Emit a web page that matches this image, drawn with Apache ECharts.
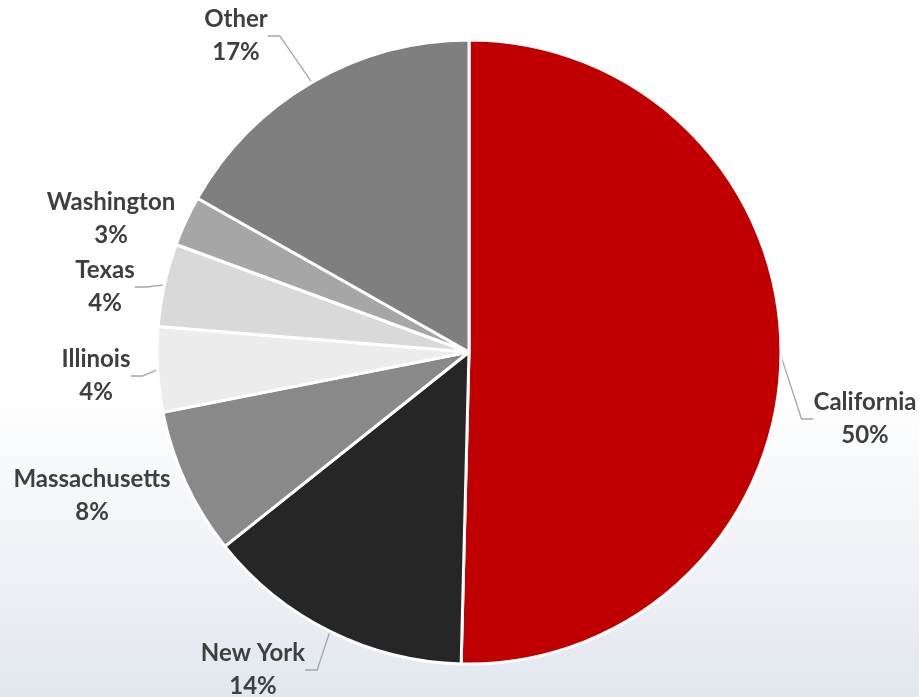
<!DOCTYPE html>
<html>
<head>
<meta charset="utf-8">
<script src="https://cdn.jsdelivr.net/npm/echarts@6/dist/echarts.min.js"></script>
<style>
  html, body { margin: 0; padding: 0; background: #ffffff; }
  #chart { width: 919px; height: 697px; }
</style>
</head>
<body>
<div id="chart"></div>
<script>
// Share of total by state, clockwise from 12 o'clock
const states = ['California', 'New York', 'Massachusetts', 'Illinois', 'Texas', 'Washington', 'Other'];
const shares = [50.4, 13.9, 7.6, 4.4, 4.3, 2.6, 16.8];

// Slice fills, same order as the states
const sliceColors = ['#c00000', '#262626', '#898989', '#ececec', '#d9d9d9', '#a6a6a6', '#7f7f7f'];

// Label block centres (px) and which slices get a leader line
const labelSpots = {
  'California':    [865, 419],
  'New York':      [253, 670],
  'Massachusetts': [92, 496],
  'Illinois':      [96, 376],
  'Texas':         [105, 287],
  'Washington':    [111, 219],
  'Other':         [236, 36]
};
const noLeader = ['Massachusetts', 'Washington'];

const chart = echarts.init(document.getElementById('chart'), null, { renderer: 'canvas' });

const seriesData = states.map((name, i) => ({
  name: name,
  value: shares[i],
  itemStyle: { color: sliceColors[i] },
  labelLine: { show: noLeader.indexOf(name) < 0 }
}));

chart.setOption({
  backgroundColor: {
    type: 'linear', x: 0, y: 0, x2: 0, y2: 1,
    colorStops: [
      { offset: 0, color: '#ffffff' },
      { offset: 0.56, color: '#ffffff' },
      { offset: 1, color: '#e2e7ee' }
    ]
  },
  animation: false,
  series: [{
    type: 'pie',
    center: [469, 352],
    radius: [0, 312],
    startAngle: 90,
    clockwise: true,
    avoidLabelOverlap: false,
    itemStyle: { borderColor: '#ffffff', borderWidth: 3 },
    label: {
      show: true,
      position: 'outside',
      formatter: p => p.name + '\n' + Math.round(p.value) + '%',
      fontFamily: 'Lato',
      fontWeight: 'bold',
      fontSize: 24,
      lineHeight: 33,
      color: '#3f3f3f',
      align: 'center'
    },
    labelLine: {
      length: 15,
      length2: 12,
      lineStyle: { color: '#a6a6a6', width: 1.3 }
    },
    labelLayout: function (params) {
      const name = states[params.dataIndex];
      const spot = labelSpots[name];
      return {
        x: spot[0],
        y: spot[1],
        align: 'center',
        verticalAlign: 'middle'
      };
    },
    data: seriesData
  }]
});
</script>
</body>
</html>
